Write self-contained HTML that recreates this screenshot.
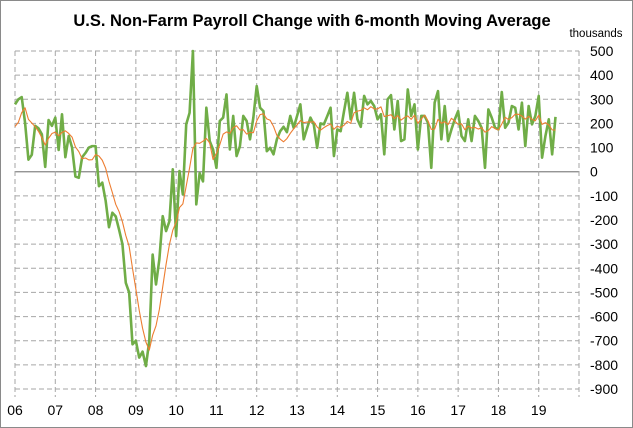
<!DOCTYPE html>
<html><head><meta charset="utf-8"><style>
body{margin:0;background:#fff;}
svg{display:block;font-family:"Liberation Sans",sans-serif;}
</style></head><body>
<svg id="chart" width="633" height="428">
<rect x="0.5" y="0.5" width="632" height="427" fill="#fff" stroke="#8a8a8a"/>
<text x="312" y="26" text-anchor="middle" font-size="16.5" font-weight="bold" fill="#000">U.S. Non-Farm Payroll Change  with 6-month Moving Average</text>
<text x="596" y="37" text-anchor="middle" font-size="11.5" fill="#000">thousands</text>
<g id="grid"></g><g id="lines"></g><g id="labels"></g>
</svg>
<script>
const yTicks=[500,400,300,200,100,0,-100,-200,-300,-400,-500,-600,-700,-800,-900];
const yearLabels=["06","07","08","09","10","11","12","13","14","15","16","17","18","19"];
const prior=[196,67,84,337,160];
const payrolls=[279,300,309,203,50,70,190,180,155,20,214,190,
224,90,238,60,148,100,-20,-25,60,78,100,106,
106,-60,-45,-120,-230,-170,-185,-240,-300,-460,-500,-715,
-700,-770,-745,-805,-700,-343,-467,-363,-184,-246,-205,10,
-267,3,-94,196,244,500,-135,-6,-40,265,127,92,
16,210,224,320,92,231,65,106,231,210,134,224,
355,265,251,85,99,72,134,168,186,164,231,182,
230,279,134,180,224,196,99,200,196,230,265,65,
175,168,250,327,217,327,217,186,314,279,293,272,
217,238,72,300,317,175,293,127,134,341,231,279,
92,231,231,203,16,286,334,134,272,127,175,217,
251,148,127,217,127,231,210,182,16,258,224,182,
175,330,182,203,272,265,175,286,106,272,196,231,
314,58,148,217,72,227];
const NS="http://www.w3.org/2000/svg";
const L=15,R=579,T=51,B=389,yMax=500,yMin=-900,months=168;
const xs=m=>L+(R-L)*m/months;
const ys=v=>T+(B-T)*(yMax-v)/(yMax-yMin);
function mk(tag,attrs,parent){const e=document.createElementNS(NS,tag);for(const k in attrs)e.setAttribute(k,attrs[k]);parent.appendChild(e);return e;}
const grid=document.getElementById('grid'),lines=document.getElementById('lines'),labels=document.getElementById('labels');
yTicks.forEach(v=>{
  const y=ys(v);
  const ln=mk('line',{x1:L,x2:R,y1:y,y2:y,stroke:v===0?'#868686':'#a6a6a6','stroke-width':v===0?1.3:1,'stroke-dasharray':v===0?'none':'5,3'},grid);
  
  
  const t=mk('text',{x:590,y:y+5,'font-size':14,fill:'#000'},labels);
  t.textContent=v;
  
  
});
for(let k=0;k<=14;k++){
  const x=xs(k*12);
  const ln=mk('line',{x1:x,x2:x,y1:T,y2:B+8,stroke:'#a6a6a6','stroke-dasharray':'5,3'},grid);
  
  
}
yearLabels.forEach((s,k)=>{
  const t=mk('text',{x:xs(k*12),y:415,'font-size':14,'text-anchor':'middle',fill:'#000'},labels);
  t.textContent=s;
  
  
});
const all=prior.concat(payrolls);
const ma=payrolls.map((v,i)=>{let s=0;for(let j=i;j<i+6;j++)s+=all[j];return s/6;});
const gp=mk('polyline',{points:payrolls.map((v,i)=>xs(i)+','+ys(v)).join(' '),fill:'none',stroke:'#70ad47','stroke-width':2.6,'stroke-linejoin':'round'},lines);


const op=mk('polyline',{points:ma.map((v,i)=>xs(i)+','+ys(v)).join(' '),fill:'none',stroke:'#ed7d31','stroke-width':1.1,'stroke-linejoin':'round'},lines);


</script>
</body></html>
